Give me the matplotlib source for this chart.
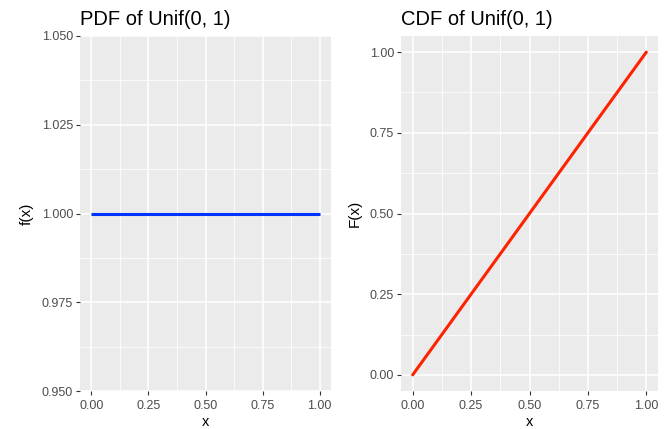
import matplotlib
matplotlib.use("Agg")
import matplotlib.pyplot as plt
import numpy as np

# data
x = [0.0, 1.0]
pdf = [1.0, 1.0]
cdf = [0.0, 1.0]
pdf_yticks = [0.950, 0.975, 1.000, 1.025, 1.050]
cdf_yticks = [0.00, 0.25, 0.50, 0.75, 1.00]
xticks = [0.00, 0.25, 0.50, 0.75, 1.00]

plt.rcParams['font.family'] = ['Liberation Sans', 'DejaVu Sans']

fig = plt.figure(figsize=(6.65, 4.29), dpi=100)
W, H = 665, 429


def gg_axes(rect):
    l, t, r, b = rect
    ax = fig.add_axes([l / W, 1 - b / H, (r - l) / W, (b - t) / H])
    ax.set_facecolor('#ebebeb')
    for s in ax.spines.values():
        s.set_visible(False)
    ax.set_axisbelow(True)
    ax.grid(which='major', color='white', linewidth=1.1)
    ax.grid(which='minor', color='white', linewidth=0.55)
    ax.tick_params(which='major', length=3, width=0.8, color='#333333',
                   labelcolor='#4d4d4d', labelsize=9, pad=2)
    ax.tick_params(axis='x', which='major', pad=3.5)
    ax.tick_params(which='minor', length=0)
    return ax


def fmt(ax, yt, ydec):
    ax.set_xticks(xticks)
    ax.set_xticklabels(['%.2f' % v for v in xticks])
    ax.set_xticks([0.125, 0.375, 0.625, 0.875], minor=True)
    ax.set_yticks(yt)
    ax.set_yticklabels([('%.' + str(ydec) + 'f') % v for v in yt])
    mids = [(a + b) / 2 for a, b in zip(yt[:-1], yt[1:])]
    ax.set_yticks(mids, minor=True)
    ax.set_xlim(-0.05, 1.05)
    ax.set_xlabel('x', fontsize=10.5, color='black', labelpad=2.5)


ax1 = gg_axes((80, 36, 331, 391))
ax1.plot(x, pdf, color='#0033ff', linewidth=2.2, solid_capstyle='butt')
fmt(ax1, pdf_yticks, 3)
ax1.set_ylim(0.95, 1.05)
ax1.set_ylabel('f(x)', fontsize=11, labelpad=5.5)
ax1.set_title('PDF of Unif(0, 1)', loc='left', fontsize=14.5, pad=8)

ax2 = gg_axes((401, 36, 658, 391))
ax2.plot(x, cdf, color='#ff2200', linewidth=2.2, solid_capstyle='round')
fmt(ax2, cdf_yticks, 2)
ax2.set_ylim(-0.05, 1.05)
ax2.set_ylabel('F(x)', fontsize=11, labelpad=5.5)
ax2.set_title('CDF of Unif(0, 1)', loc='left', fontsize=14.5, pad=8)

fig.savefig('out.png', dpi=100)
